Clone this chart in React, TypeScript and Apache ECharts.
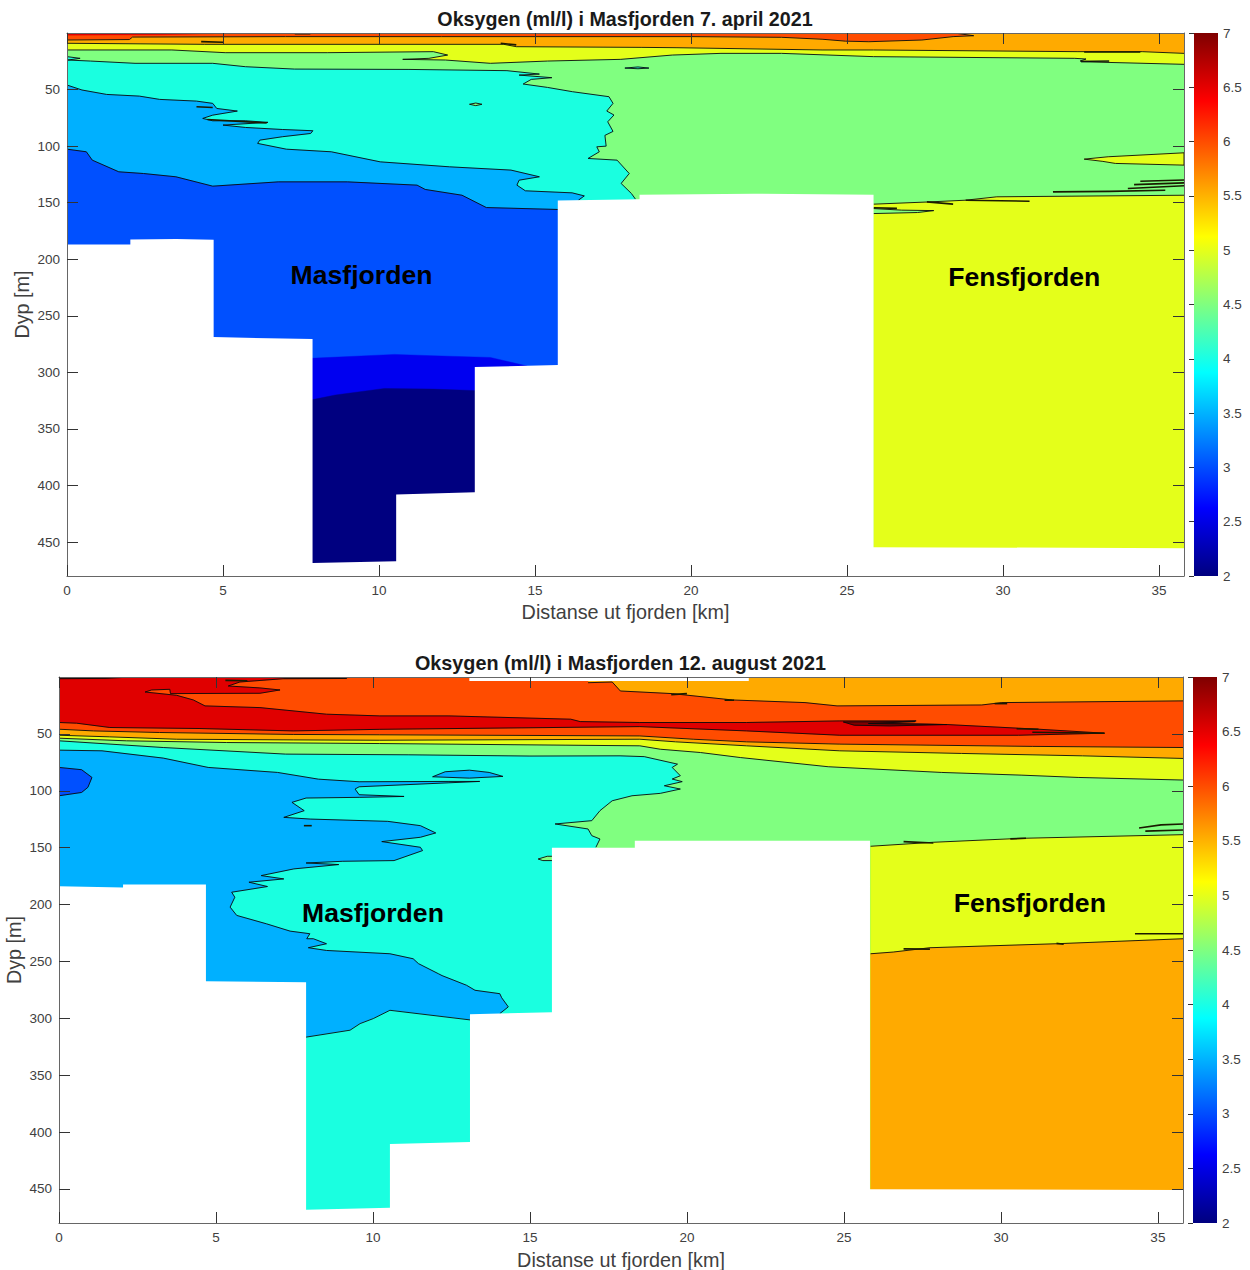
import React, { useEffect, useRef } from "react";
import * as echarts from "echarts";

type Pt = number[];
type Layer = { band: string; line: Pt[]; close?: Pt[]; noStroke?: boolean };

const xTicks = [0, 5, 10, 15, 20, 25, 30, 35];
const yTicks = [50, 100, 150, 200, 250, 300, 350, 400, 450];
const xMax = 35.8;
const yMax = 480;
const titles = ["Oksygen (ml/l) i Masfjorden 7. april 2021", "Oksygen (ml/l) i Masfjorden 12. august 2021"];

const bands: Record<string, string> = {
  navy: "#000080",
  blue: "#0000f0",
  royal: "#0050ff",
  sky: "#00b0ff",
  aqua: "#1affe0",
  green: "#80ff80",
  yellow: "#e4ff1a",
  orange: "#ffaa00",
  flame: "#ff4c00",
  red: "#e00000",
  dark: "#800000",
};
const jetStops = [
  [0, "#00007f"],
  [0.125, "#0000ff"],
  [0.375, "#00ffff"],
  [0.625, "#ffff00"],
  [0.875, "#ff0000"],
  [1, "#7f0000"],
];

// ---------- April section: contours in km / m ----------
const bottomClose: Pt[] = [[xMax, yMax], [0, yMax]];
const frame: Pt[] = [[0, 0], [xMax, 0], [xMax, yMax], [0, yMax]];

const aprRedStrip: Pt[] = [[0, 0], [4.7, 0], [4.7, 0.6], [3, 1.5], [0, 1.9]];
const aprOrange: Pt[] = [[0, 6.2], [2, 5.8], [2.1, 3.6], [7, 3.2], [12, 3.2], [18.4, 3.2], [20, 3.2], [22.9, 3.8], [24.2, 5.5], [24.95, 7.2], [25.7, 7.7], [27.4, 6.2], [28.4, 3.2], [29.06, 2.4], [28.5, 0.3]];
const aprYellow: Pt[] = [[0, 9.1], [4.4, 10], [14, 10], [14.4, 12.1], [18.4, 12.7], [19.55, 13], [24.2, 15], [25.85, 15], [32.4, 16.5], [34.46, 16.5], [35.8, 18]];
const aprGreen: Pt[] = [[0, 15], [3.36, 15], [5.07, 17.4], [8.34, 17.4], [11.74, 16.5], [12.2, 19.5], [11.6, 22.4], [10.76, 23.3], [12.13, 23.9], [13.57, 26.8], [15.4, 24.8], [17.75, 23.3], [19.4, 19.5], [20.96, 18], [22.9, 18], [25.85, 20.9], [32.3, 22.4], [32.66, 23], [32.47, 24.8], [33.4, 24.8], [32.5, 25.4], [35.8, 27.7]];
const aprAqua: Pt[] = [[0, 20.9], [0.42, 22.4], [0.03, 23.9], [0.75, 24.8], [2.18, 26.8], [4.67, 26.8], [5.72, 29.8], [7.29, 31.9], [10.96, 32.2], [14.1, 33.3], [15.14, 36.3], [14.49, 37.2], [15.54, 39.5], [14.88, 41], [14.62, 45.1], [15.4, 48.1], [16.2, 51.9], [17.37, 56.3], [17.5, 62.2], [17.3, 69], [17.53, 72.5], [17.33, 78.5], [17.5, 87], [17.24, 90.5], [17.28, 100], [16.98, 100.6], [17.06, 105], [16.7, 110.9], [17.63, 112.4], [18.02, 124.2], [17.76, 133], [18.09, 141.9], [18.22, 146.9]];
const aprSky: Pt[] = [[0, 46], [0.48, 50.4], [1.27, 54.3], [2.32, 55.8], [2.97, 58.7], [4.15, 60.2], [4.67, 62.2], [4.8, 66.7], [5.46, 69], [4.67, 72.6], [4.35, 75.5], [4.67, 77.6], [5.72, 77.6], [6.44, 79], [5, 81.4], [5.72, 83.5], [6.9, 85.3], [7.88, 86.4], [7.81, 88.8], [6.9, 91.7], [6.18, 94.7], [6.11, 97.6], [7.03, 102.7], [8.47, 105], [10.04, 113.9], [12.26, 118.3], [14.23, 121.2], [15.14, 127.1], [14.49, 130.1], [14.42, 134.5], [14.69, 139.5], [16.19, 141.3], [16.58, 144], [16.39, 147.8]];
const aprRoyal: Pt[] = [[0, 102.7], [0.62, 105], [0.81, 112.4], [1.66, 122.7], [2.45, 124.2], [3.49, 127.1], [4.67, 135.4], [6.77, 131.6], [8.99, 131.6], [11.22, 134.5], [11.48, 138.3], [12.66, 143.4], [13.44, 154.3], [15.73, 156]];
const aprBlue: Pt[] = [[7.8, 287.6], [10.5, 284.1], [11.74, 285.3], [13.57, 286.8], [14.75, 294.4]];
const aprNavy: Pt[] = [[7.8, 324.5], [8.6, 320], [10.17, 314.2], [11.74, 314.8], [13.2, 316.2]];
const aprOval: Pt[] = [[12.9, 63], [13.1, 61.9], [13.3, 63], [13.1, 64.2], [12.9, 63]];
const aprLensAqua: Pt[] = [[17.88, 31], [18.3, 30], [18.65, 31], [18.3, 31.6], [17.88, 31]];
const aprWedge: Pt[] = [[32.6, 111.5], [33.37, 109.4], [35.8, 105.9], [35.8, 116.8], [33.6, 115.3], [33.2, 113.5], [32.6, 111.5]];
const aprFens: Pt[] = [[25.85, 151.3], [27.65, 149.3], [28.8, 147.8], [29.8, 144.8], [35.8, 143.4]];
const aprLensGreen: Pt[] = [[25.85, 155.2], [26.75, 156.6], [27.78, 157], [27.26, 158.7], [25.85, 159.6]];
const aprSlivers: Pt[][] = [
  [[4.15, 65.2], [4.67, 65.8]],
  [[4.5, 76.5], [6.4, 79.6]],
  [[4.3, 7.6], [5, 8.2]],
  [[13.9, 9], [14.4, 10.5]],
  [[7.3, 0.6], [7.8, 0.6]],
  [[27.56, 149.3], [28.4, 151.3]],
  [[28.8, 147.8], [30.85, 148.7]],
  [[31.6, 140.4], [33.4, 140], [35.2, 139]],
  [[34, 137.5], [35.8, 135]],
  [[34.2, 134], [35.8, 132.5]],
  [[34.4, 131], [35.8, 130]],
  [[25.85, 154.5], [26.6, 155]],
  [[32.6, 16.8], [34.4, 16.8]],
];
const aprSeabed: Pt[] = [[0, 187], [2.03, 187], [2.03, 182.6], [3.5, 182], [4.7, 182.8], [4.7, 268.8], [7.87, 270.6], [7.87, 468.5], [10.55, 467], [10.55, 408], [13.07, 406], [13.07, 295.3], [15.73, 293.5], [15.73, 148], [18.35, 147], [18.35, 143], [22, 142], [25.85, 143], [25.85, 454.5], [35.8, 455.4], [35.8, 480], [0, 480]];

// ---------- August section ----------
const augFlame: Pt[] = [[16.85, 5], [17.62, 4.4], [17.88, 12.3], [19.53, 14.6], [21.45, 20.2], [23.76, 22.5], [24.78, 25.4], [29.39, 24.6], [30.03, 22.5], [35.8, 21]];
const augRed: Pt[] = [[7.14, 1.5], [5.76, 4.4], [5.39, 7.9], [6.4, 9.6], [7.04, 11.4], [6.4, 14.3], [3.55, 14.6], [3.53, 10.8], [2.95, 11.4], [2.74, 13.2], [3.75, 16.1], [4.28, 20.2], [4.65, 25.4], [6.4, 26.9], [8.52, 32.7], [10.22, 34.2], [12.42, 34.2], [16.3, 37.1], [16.6, 39.2], [18.5, 40], [21.9, 40], [24.87, 38.6], [27.3, 38.6], [25.8, 40.5], [28.28, 41.8], [30.56, 45], [31.2, 45.9], [33.3, 49.4], [30.56, 51.2], [24.87, 51.2], [21.9, 47.4], [18.5, 43.6], [10.22, 46], [7.46, 47.4], [4.49, 45.3], [1.62, 44.4], [0.56, 40.6], [0, 40]];
const augDarkLens: Pt[] = [[24.98, 39.5], [27.26, 39.2], [25.78, 40.9], [28.28, 41.8], [26.46, 43], [25.33, 42.4], [24.98, 39.5]];
const augTopDarkA: Pt[] = [[0, 0], [2.3, 0], [1.5, 1.2], [0, 1.5]];
const augTopDarkB: Pt[] = [[7.14, 0], [9.16, 0], [9.16, 1.3], [7.14, 1.5]];
const augOrange: Pt[] = [[0, 45.9], [1.1, 47.4], [3.2, 48.8], [7.46, 50.5], [10.2, 50.8], [18.5, 51.8], [20.2, 54.7], [21.9, 57], [24.87, 59], [31, 61], [35.8, 62]];
const augYellow: Pt[] = [[0, 51.2], [1.6, 52.6], [3.75, 54.7], [7.46, 55.3], [10.2, 55.6], [18.5, 54.7], [19.64, 57], [21.9, 60.5], [24.87, 64.9], [28.74, 67.2], [32.6, 69.3], [35.8, 71.6]];
const augGreen: Pt[] = [[0, 53.8], [2.15, 56.1], [5.34, 57.6], [10.2, 58.5], [18.5, 60.5], [19.15, 63.5], [20.43, 66.4], [21.7, 70.8], [24.5, 78.9], [28.1, 83.9], [30.67, 86.3], [32.46, 88.3], [35.8, 90.6]];
const augAqua: Pt[] = [[0, 56.1], [3.32, 62], [7.22, 67.8], [11.12, 68.4], [15, 69.5], [17.87, 69.3], [18.64, 70], [19.7, 76.6], [19.53, 79.5], [19.79, 86.8], [19.53, 89.7], [19.85, 92], [19.28, 95.6], [19.79, 98.5], [19.15, 102.3], [18.25, 104.4], [17.62, 108.8], [17.23, 117.5], [16.97, 126.3], [15.8, 129.2], [16.85, 133.6], [16.97, 139.5], [17.23, 142.4], [17.1, 149.7]];
const augSky: Pt[] = [[0, 64.3], [1.37, 64.9], [3.32, 71.3], [4.75, 79.5], [6.96, 83.9], [8.26, 89.8], [9.56, 92.1], [12.42, 91.8], [13.4, 91.8], [12.42, 93], [9.56, 96.5], [9.43, 98.5], [9.56, 103.5], [10.99, 105], [9.56, 105.8], [7.87, 106.4], [7.42, 110.2], [7.81, 117.5], [7.16, 123.4], [8, 124.9], [10.47, 126.9], [11.51, 130.7], [12, 137.1], [11.51, 140.9], [10.28, 144.7], [11.51, 149.7], [11.58, 152.6], [10.67, 161.4], [9.04, 162], [7.87, 163.5], [8.91, 164.9], [7.48, 168.7], [6.44, 174.6], [7.16, 177.5], [6.05, 180.4], [6.64, 184.2], [5.5, 189.2], [5.6, 193.6], [5.45, 202.3], [5.66, 209.6], [6.61, 217], [7.36, 223.4], [7.99, 225.7], [7.89, 230.1], [8.1, 230.1], [8.52, 234.5], [7.94, 238], [8.52, 240.4], [10.54, 243.3], [11.28, 247.7], [11.45, 252], [12.08, 260.8], [12.2, 262.5], [12.98, 271], [13.25, 275.4], [14.04, 278.4], [14.1, 282], [14.31, 290], [14.04, 295.9]];
const augRoyal: Pt[] = [[0, 79.5], [0.72, 81.5], [1.05, 88.3], [0.92, 97], [0.72, 101.5], [0, 104.4]];
const augIsland: Pt[] = [[11.9, 87.7], [12.3, 83.3], [13.07, 81.9], [13.7, 83.9], [14.14, 87.4], [13.07, 88.9], [11.9, 87.7]];
const augDeepAqua: Pt[] = [[7.8, 316.9], [9.27, 310.5], [9.59, 304.7], [10.01, 300.3], [10.54, 293], [13.2, 301.8]];
const augLensGreen: Pt[] = [[15.26, 160], [15.55, 157.6], [15.74, 157.6], [15.74, 161.4], [15.41, 161.4], [15.26, 160]];
const augFensYellow: Pt[] = [[25.85, 148.8], [27.85, 145.3], [30.67, 141.8], [35.8, 138.6]];
const augFensOrange: Pt[] = [[25.85, 243.3], [26.57, 241.8], [27.74, 238], [31.77, 234.5], [35.8, 230.1]];
const augSlivers: Pt[][] = [
  [[19.5, 15.5], [20, 14.6]],
  [[21.2, 20.3], [21.5, 20.5]],
  [[29.8, 23.4], [30.2, 23.4]],
  [[30.5, 45.5], [31.2, 45.9]],
  [[33.3, 49.4], [31, 48.6]],
  [[7.8, 130.7], [8.05, 130.7]],
  [[5.3, 3], [6, 3.3]],
  [[26.9, 144.7], [27.85, 146]],
  [[30.3, 142.3], [30.8, 141.8]],
  [[34.4, 132.7], [35.1, 130], [35.8, 129.2]],
  [[34.6, 135.5], [35.8, 134.5]],
  [[26.9, 239], [27.74, 239.2]],
  [[31.77, 234.2], [32, 235]],
  [[34.27, 225.7], [35.8, 225.7]],
];
const augSeabed: Pt[] = [[0, 184], [2.04, 185], [2.04, 182.5], [4.68, 182.5], [4.68, 267.5], [7.87, 268.4], [7.87, 468.4], [10.54, 466.7], [10.54, 410.5], [13.09, 408.8], [13.09, 296.5], [15.7, 294.7], [15.7, 150], [18.34, 150], [18.34, 143.9], [25.83, 144], [25.83, 450.3], [35.8, 450.9], [35.8, 480], [0, 480]];
const augTopGap: Pt[] = [[13.07, 0], [21.97, 0], [21.97, 3.5], [13.07, 3.5]];

const aprNames: [number, number, string][] = [[9.44, 214, "Masfjorden"], [30.68, 216, "Fensfjorden"]];
const augNames: [number, number, string][] = [[10, 207.5, "Masfjorden"], [30.92, 199, "Fensfjorden"]];

const aprLayers: Layer[] = [
  { band: "flame", line: frame, noStroke: true },
  { band: "red", line: aprRedStrip, noStroke: true },
  { band: "orange", line: aprOrange, close: [[35.8, 0], ...bottomClose] },
  { band: "yellow", line: aprYellow, close: bottomClose },
  { band: "green", line: aprGreen, close: bottomClose },
  { band: "aqua", line: aprAqua, close: [[18.3, 150], [18.3, 480], [0, 480]] },
  { band: "sky", line: aprSky, close: [[16.39, 160], [16, 480], [0, 480]] },
  { band: "royal", line: aprRoyal, close: [[15.75, 480], [0, 480]] },
  { band: "blue", line: aprBlue, close: [[14.75, 480], [7.8, 480]], noStroke: true },
  { band: "navy", line: aprNavy, close: [[13.2, 480], [7.8, 480]], noStroke: true },
  { band: "green", line: aprOval },
  { band: "aqua", line: aprLensAqua },
  { band: "yellow", line: aprWedge },
  { band: "yellow", line: aprFens, close: [[35.8, 480], [25.85, 480]] },
  { band: "green", line: aprLensGreen },
];
const augLayers: Layer[] = [
  { band: "orange", line: frame, noStroke: true },
  { band: "flame", line: augFlame, close: [[35.8, 480], [0, 480], [0, 0], [16.85, 0]] },
  { band: "red", line: augRed, close: [[0, 0], [7.14, 0]] },
  { band: "dark", line: augDarkLens },
  { band: "dark", line: augTopDarkA },
  { band: "dark", line: augTopDarkB },
  { band: "orange", line: augOrange, close: bottomClose },
  { band: "yellow", line: augYellow, close: bottomClose },
  { band: "green", line: augGreen, close: bottomClose },
  { band: "aqua", line: augAqua, close: [[17.1, 480], [0, 480]] },
  { band: "sky", line: augSky, close: [[14.04, 480], [0, 480]] },
  { band: "royal", line: augRoyal },
  { band: "sky", line: augIsland },
  { band: "aqua", line: augDeepAqua, close: [[13.2, 480], [7.8, 480]] },
  { band: "green", line: augLensGreen },
  { band: "yellow", line: augFensYellow, close: [[35.8, 480], [25.85, 480]] },
  { band: "orange", line: augFensOrange, close: [[35.8, 480], [25.85, 480]] },
];

const FONT = "'Liberation Sans', Arial, sans-serif";
const INK = "#404040";

function sectionSeries(index: number, layers: Layer[], slivers: Pt[][], masks: Pt[][], names: [number, number, string][]) {
  const common = { type: "custom", coordinateSystem: "cartesian2d", xAxisIndex: index * 2, yAxisIndex: index * 2, silent: true, clip: true };
  return [
    {
      ...common,
      z: 2,
      data: layers.map((_, i) => [i, 0]),
      renderItem: (p: any, api: any) => {
        const l = layers[p.dataIndex];
        const fillPts = [...l.line, ...(l.close || [])].map((c) => api.coord(c));
        const children: any[] = [{ type: "polygon", shape: { points: fillPts }, style: { fill: bands[l.band], stroke: bands[l.band], lineWidth: 0.4 } }];
        if (!l.noStroke) {
          children.push({ type: "polyline", shape: { points: l.line.map((c) => api.coord(c)) }, style: { fill: null, stroke: "#0a0a0a", lineWidth: 0.9 } });
        }
        return { type: "group", children };
      },
    },
    {
      ...common,
      z: 3,
      data: slivers.map((_, i) => [i, 0]),
      renderItem: (p: any, api: any) => ({
        type: "polyline",
        shape: { points: slivers[p.dataIndex].map((c) => api.coord(c)) },
        style: { fill: null, stroke: "#1a1a00", lineWidth: 1.6 },
      }),
    },
    {
      ...common,
      z: 4,
      data: masks.map((_, i) => [i, 0]),
      renderItem: (p: any, api: any) => ({
        type: "polygon",
        shape: { points: masks[p.dataIndex].map((c) => api.coord(c)) },
        style: { fill: "#ffffff" },
      }),
    },
    {
      ...common,
      z: 6,
      data: names.map((n) => [n[0], n[1]]),
      renderItem: (p: any, api: any) => {
        const c = api.coord([names[p.dataIndex][0], names[p.dataIndex][1]]);
        return {
          type: "text",
          x: c[0],
          y: c[1],
          style: { text: names[p.dataIndex][2], font: `bold 26.6px ${FONT}`, fill: "#000", align: "center", verticalAlign: "middle" },
        };
      },
    },
  ];
}

function colorbarSeries(gridIdx: number) {
  return {
    type: "custom",
    coordinateSystem: "cartesian2d",
    xAxisIndex: gridIdx,
    yAxisIndex: gridIdx,
    silent: true,
    data: [[0, 2, 1, 7]],
    renderItem: (_: any, api: any) => {
      const a = api.coord([0, 7]);
      const b = api.coord([1, 2]);
      return {
        type: "rect",
        shape: { x: a[0], y: a[1], width: b[0] - a[0], height: b[1] - a[1] },
        style: {
          fill: new echarts.graphic.LinearGradient(0, 1, 0, 0, jetStops.map((s) => ({ offset: s[0] as number, color: s[1] as string }))),
        },
      };
    },
  };
}

function sectionAxes(grid: number, nameGapX: number, nameGapY: number) {
  const line = { show: true, onZero: false, lineStyle: { color: "#666", width: 1 } };
  const tick = (custom: number[]) => ({ show: true, inside: true, length: 11, lineStyle: { color: "#333", width: 1 }, customValues: custom });
  const base = { type: "value", gridIndex: grid, splitLine: { show: false }, z: 10 };
  const xBase = { ...base, min: 0, max: xMax };
  const yBase = { ...base, min: 0, max: yMax, inverse: true };
  const x = [
    {
      ...xBase,
      position: "bottom",
      name: "Distanse ut fjorden [km]",
      nameLocation: "middle",
      nameGap: nameGapX,
      nameMoveOverlap: false,
      nameTextStyle: { color: INK, fontSize: 19.8, fontFamily: FONT },
      axisLine: line,
      axisTick: tick(xTicks),
      axisLabel: { customValues: xTicks, color: INK, fontSize: 13.5, fontFamily: FONT, margin: 7 },
    },
    { ...xBase, position: "top", axisLine: line, axisTick: tick(xTicks), axisLabel: { show: false } },
  ];
  const y = [
    {
      ...yBase,
      position: "left",
      name: "Dyp [m]",
      nameLocation: "middle",
      nameGap: nameGapY,
      nameRotate: 90,
      nameMoveOverlap: false,
      nameTextStyle: { color: INK, fontSize: 19.8, fontFamily: FONT },
      axisLine: line,
      axisTick: tick(yTicks),
      axisLabel: { customValues: yTicks, color: INK, fontSize: 13.5, fontFamily: FONT, margin: 7 },
    },
    { ...yBase, position: "right", axisLine: line, axisTick: tick(yTicks), axisLabel: { show: false } },
  ];
  return { x, y };
}

function App() {
  const ref = useRef<HTMLDivElement>(null);
  useEffect(() => {
    const chart = echarts.init(ref.current!, undefined, { renderer: "svg" });
    const a = sectionAxes(0, 26, 35);
    const b = sectionAxes(1, 26.5, 35);
    const barAxis = (grid: number) => ({
      x: { type: "value", gridIndex: grid, min: 0, max: 1, show: false },
      y: {
        type: "value",
        gridIndex: grid,
        min: 2,
        max: 7,
        interval: 0.5,
        position: "right",
        z: 10,
        splitLine: { show: false },
        axisLine: { show: false },
        axisTick: { show: true, inside: true, length: 5, lineStyle: { color: "#333" } },
        axisLabel: { color: INK, fontSize: 13.5, fontFamily: FONT, margin: 5 },
      },
    });
    const barA = barAxis(2);
    const barB = barAxis(3);
    // axis order: section 1 = 0,1; section 2 = 2,3; colourbars = 4,5
    const option: any = {
      animation: false,
      backgroundColor: "#fff",
      title: [
        { text: titles[0], left: 620, top: 4, textAlign: "center", textStyle: { color: "#1a1a1a", fontSize: 19.7, fontWeight: "bold", fontFamily: FONT } },
        { text: titles[1], left: 615.5, top: 648, textAlign: "center", textStyle: { color: "#1a1a1a", fontSize: 19.8, fontWeight: "bold", fontFamily: FONT } },
      ],
      grid: [
        { left: 67, top: 33, width: 1117, height: 543, outerBoundsMode: "none" },
        { left: 59, top: 677, width: 1124, height: 546, outerBoundsMode: "none" },
        { left: 1194, top: 33, width: 24, height: 543, outerBoundsMode: "none" },
        { left: 1193, top: 677, width: 24, height: 546, outerBoundsMode: "none" },
      ],
      xAxis: [...a.x, ...b.x, barA.x, barB.x],
      yAxis: [...a.y, ...b.y, barA.y, barB.y],
      series: [
        ...sectionSeries(0, aprLayers, aprSlivers, [aprSeabed], aprNames),
        ...sectionSeries(1, augLayers, augSlivers, [augSeabed, augTopGap], augNames),
        colorbarSeries(4),
        colorbarSeries(5),
      ],
    };
    chart.setOption(option);
    return () => chart.dispose();
  }, []);
  return <div ref={ref} style={{ position: "absolute", left: 0, top: 0, width: 1250, height: 1270 }} />;
}

export default App;
